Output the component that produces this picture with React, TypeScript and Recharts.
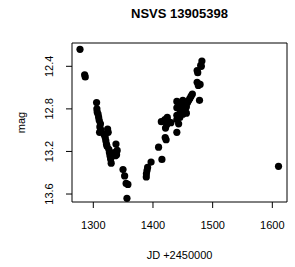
import React from 'react';
import { ScatterChart, Scatter, XAxis, YAxis, ReferenceArea } from 'recharts';

const jd = [
  1277.7, 1285.5, 1286.5, 1305.5, 1306, 1306.5, 1308, 1309, 1310, 1312, 1311, 1310.5, 1313,
  1318, 1320, 1321, 1322, 1323, 1324, 1325, 1326, 1327, 1328, 1329, 1330, 1335, 1337, 1338,
  1340, 1339, 1349.8, 1352.5, 1355, 1358, 1356.4, 1388.8, 1389, 1390, 1391, 1396.8, 1409.4,
  1415, 1414, 1420.5, 1422, 1421, 1423, 1420, 1424, 1426, 1430, 1440, 1440, 1440, 1440, 1440,
  1443, 1445, 1446, 1447, 1450, 1452, 1454, 1456, 1458, 1460, 1462, 1464, 1466, 1456, 1450,
  1478, 1474, 1476, 1479, 1474, 1475, 1480, 1482, 1481, 1610.4,
];
const mag = [
  12.24, 12.48, 12.5, 12.74, 12.8, 12.83, 12.85, 12.88, 12.91, 12.94, 12.97, 13.02, 13.0,
  13.04, 13.07, 13.1, 13.13, 13.15, 12.99, 13.02, 13.18, 13.21, 13.24, 13.27, 13.31, 13.21, 13.24, 13.13,
  13.19, 13.23, 13.37, 13.43, 13.5, 13.51, 13.64, 13.44, 13.41, 13.38, 13.35, 13.3, 13.16,
  13.275, 12.92, 13.07, 13.09, 12.98, 12.95, 12.9, 12.88, 12.92, 12.93, 12.73, 12.79, 12.86, 12.9, 13.02,
  12.94, 12.88, 12.82, 12.77, 12.72, 12.75, 12.8, 12.78, 12.74, 12.72, 12.7, 12.68, 12.66, 12.84, 12.85,
  12.72, 12.55, 12.58, 12.57, 12.44, 12.46, 12.39, 12.35, 12.4, 13.34,
];
const xTicks = [1300, 1350, 1400, 1450, 1500, 1550, 1600];
const xLabels = [1300, 1400, 1500, 1600];
const yTicks = [12.2, 12.4, 12.6, 12.8, 13.0, 13.2, 13.4, 13.6];
const yLabels = [12.4, 12.8, 13.2, 13.6];
const xDomain: [number, number] = [1264.3, 1624.6];
const yDomain: [number, number] = [12.181, 13.675];

const data = jd.map((x, i) => ({ jd: x, mag: mag[i] }));

const FONT = '"Liberation Sans", Arial, Helvetica, sans-serif';

const XTick = (props: any) => {
  const v = props.payload.value;
  if (!xLabels.includes(v)) return <g />;
  return (
    <text x={props.x} y={229} textAnchor="middle" fontSize={11} fontFamily={FONT} fill="#000">
      {v}
    </text>
  );
};

const YTick = (props: any) => {
  const v = props.payload.value;
  if (!yLabels.some((l) => Math.abs(l - v) < 1e-6)) return <g />;
  return (
    <text
      x={53.5}
      y={props.y}
      transform={`rotate(-90, 53.5, ${props.y})`}
      textAnchor="middle"
      fontSize={11}
      fontFamily={FONT}
      fill="#000"
    >
      {v.toFixed(1)}
    </text>
  );
};

const Dot = (props: any) => <circle cx={props.cx} cy={props.cy} r={3.6} fill="#000" />;

export default function App() {
  return (
    <div style={{ position: 'absolute', left: 0, top: 0, width: 295, height: 267, background: '#fff' }}>
      <ScatterChart width={295} height={267} margin={{ top: 43, right: 8, bottom: 0, left: 0 }}>
        <XAxis
          type="number"
          dataKey="jd"
          domain={xDomain}
          ticks={xTicks}
          allowDataOverflow
          height={65}
          tickSize={6}
          tick={<XTick />}
          axisLine={false}
          tickLine={{ stroke: '#000' }}
          label={{
            content: () => (
              <text x={179.5} y={259} textAnchor="middle" fontSize={11} fontFamily={FONT} fill="#000">
                JD +2450000
              </text>
            ),
          }}
        />
        <YAxis
          type="number"
          dataKey="mag"
          domain={yDomain}
          ticks={yTicks}
          reversed
          allowDataOverflow
          width={72}
          tickSize={6}
          tick={<YTick />}
          axisLine={false}
          tickLine={{ stroke: '#000' }}
          label={{
            content: () => (
              <text
                x={25}
                y={122.5}
                transform="rotate(-90, 25, 122.5)"
                textAnchor="middle"
                fontSize={11}
                fontFamily={FONT}
                fill="#000"
              >
                mag
              </text>
            ),
          }}
        />
        <ReferenceArea
          x1={xDomain[0]}
          x2={xDomain[1]}
          y1={yDomain[0]}
          y2={yDomain[1]}
          fill="none"
          fillOpacity={0}
          stroke="#000"
          strokeWidth={1}
          ifOverflow="visible"
        />
        <Scatter data={data} shape={<Dot />} isAnimationActive={false} />
        <text x={179.5} y={17.5} textAnchor="middle" fontSize={13} fontWeight="bold" fontFamily={FONT} fill="#000">
          NSVS 13905398
        </text>
      </ScatterChart>
    </div>
  );
}
